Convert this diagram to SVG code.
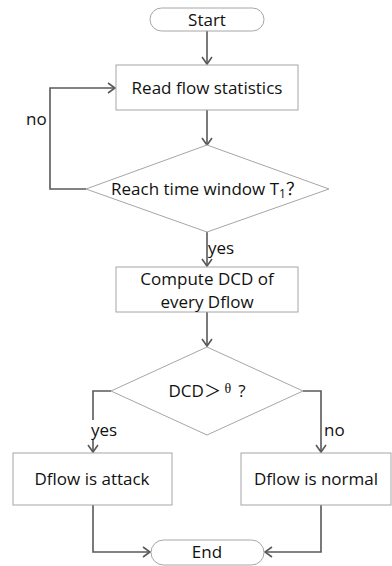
<svg xmlns="http://www.w3.org/2000/svg" width="392" height="566" viewBox="0 0 392 566">
<style>
.n{fill:#fff;stroke:#a6a6a6;stroke-width:1}
.c{fill:none;stroke:#595959;stroke-width:1.6}
text{font-family:"Open Sans","Liberation Sans",sans-serif;font-size:17px;fill:#111;text-anchor:middle}
.l{text-anchor:start}
</style>
<defs>
<marker id="ah" markerWidth="12" markerHeight="12" refX="10" refY="6" orient="auto" markerUnits="userSpaceOnUse">
<path d="M3,1 L10,6 L3,11" fill="none" stroke="#595959" stroke-width="1.6"/>
</marker>
</defs>
<g id="connectors">
<path class="c" d="M207,31 V64" marker-end="url(#ah)"/>
<path class="c" d="M207,110 V145" marker-end="url(#ah)"/>
<path class="c" d="M86,189 H50 V88 H115" marker-end="url(#ah)"/>
<path class="c" d="M207,232 V266" marker-end="url(#ah)"/>
<path class="c" d="M207,312 V346" marker-end="url(#ah)"/>
<path class="c" d="M111,391 H93 V452" marker-end="url(#ah)"/>
<path class="c" d="M303,391 H321 V452" marker-end="url(#ah)"/>
<path class="c" d="M93,505 V552 H150" marker-end="url(#ah)"/>
<path class="c" d="M321,505 V552 H265" marker-end="url(#ah)"/>
<rect x="90" y="420" width="30" height="20" fill="#fff"/>
<text class="l" x="26" y="125">no</text>
<text class="l" x="208" y="254">yes</text>
<text class="l" x="91" y="436">yes</text>
<text class="l" x="324" y="436">no</text>
</g>
<g id="start">
<rect class="n" x="150" y="8" width="114" height="23" rx="11.5"/>
<text x="207" y="26">Start</text>
</g>
<g id="read">
<rect class="n" x="116" y="65" width="182" height="45"/>
<text x="207" y="94">Read flow statistics</text>
</g>
<g id="decision1">
<polygon class="n" points="207,145 329,189 207,232 86,189"/>
<text x="207" y="195">Reach time window T<tspan font-size="12" dy="3">1</tspan><tspan dy="-3" font-family="'Noto Sans CJK SC',sans-serif">？</tspan></text>
</g>
<g id="compute">
<rect class="n" x="116" y="267" width="182" height="45"/>
<text x="207" y="285">Compute DCD of</text>
<text x="207" y="308">every Dflow</text>
</g>
<g id="decision2">
<polygon class="n" points="207,347 303,391 207,435 111,391"/>
<text x="207" y="397">DCD<tspan font-family="'Noto Sans CJK SC',sans-serif">＞</tspan><tspan font-family="'Liberation Serif',serif" font-size="14" dy="-4" xml:space="preserve"> θ  </tspan><tspan dy="4">?</tspan></text>
</g>
<g id="attack">
<rect class="n" x="13" y="453" width="159" height="52"/>
<text x="92" y="485">Dflow is attack</text>
</g>
<g id="normal">
<rect class="n" x="241" y="453" width="150" height="52"/>
<text x="316" y="485">Dflow is normal</text>
</g>
<g id="end">
<rect class="n" x="151" y="540" width="113" height="25" rx="12.5"/>
<text x="207" y="558">End</text>
</g>
</svg>
